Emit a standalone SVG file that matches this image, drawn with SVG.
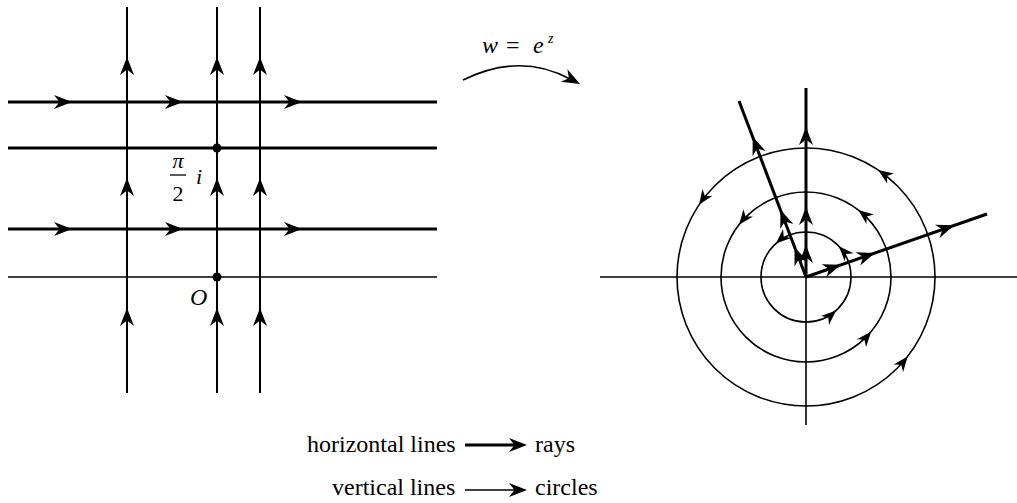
<svg xmlns="http://www.w3.org/2000/svg" xmlns:xlink="http://www.w3.org/1999/xlink" width="1017" height="503" viewBox="0 0 1017 503">
<style>
.t{font-family:"Liberation Serif","Times New Roman",serif;font-size:24px;fill:#000}
.it{font-style:italic}
.f22{font-size:22px}
.f13{font-size:14px}
.thick{stroke:#000;stroke-width:3;fill:none}
.med{stroke:#000;stroke-width:2;fill:none}
.thin{stroke:#000;stroke-width:1.6;fill:none}
</style>
<defs>
<path id="ah" d="M0,0 L-18,-7 L-12.5,0 L-18,7 Z" fill="#000"/>
<path id="as" d="M0,0 L-15,-6 L-10.5,0 L-15,6 Z" fill="#000"/>
</defs>
<rect width="1017" height="503" fill="#fff"/>

<g id="left-plane">
  <line class="thin" x1="8" y1="277" x2="437" y2="277"/>
  <line class="thick" x1="8" y1="102" x2="437" y2="102"/>
  <line class="thick" x1="8" y1="148" x2="437" y2="148"/>
  <line class="thick" x1="8" y1="229" x2="437" y2="229"/>
  <line class="med" x1="127" y1="7" x2="127" y2="393"/>
  <line class="med" x1="217" y1="7" x2="217" y2="393"/>
  <line class="med" x1="260" y1="7" x2="260" y2="393"/>
  <g id="h-arrows">
    <use xlink:href="#ah" transform="translate(72,102)"/>
    <use xlink:href="#ah" transform="translate(183,102)"/>
    <use xlink:href="#ah" transform="translate(302,102)"/>
    <use xlink:href="#ah" transform="translate(72,229)"/>
    <use xlink:href="#ah" transform="translate(183,229)"/>
    <use xlink:href="#ah" transform="translate(302,229)"/>
  </g>
  <g id="v-arrows">
    <use xlink:href="#ah" transform="translate(127,57) rotate(-90)"/>
    <use xlink:href="#ah" transform="translate(217,57) rotate(-90)"/>
    <use xlink:href="#ah" transform="translate(260,57) rotate(-90)"/>
    <use xlink:href="#ah" transform="translate(127,178) rotate(-90)"/>
    <use xlink:href="#ah" transform="translate(217,178) rotate(-90)"/>
    <use xlink:href="#ah" transform="translate(260,178) rotate(-90)"/>
    <use xlink:href="#ah" transform="translate(127,308) rotate(-90)"/>
    <use xlink:href="#ah" transform="translate(217,308) rotate(-90)"/>
    <use xlink:href="#ah" transform="translate(260,308) rotate(-90)"/>
  </g>
  <circle cx="217" cy="148" r="4.5" fill="#000"/>
  <circle cx="217" cy="277" r="4.5" fill="#000"/>
  <text class="t it f22" x="178" y="168" text-anchor="middle">π</text>
  <line x1="170" y1="175" x2="186" y2="175" stroke="#000" stroke-width="1.3"/>
  <text class="t f22" x="178" y="201" text-anchor="middle">2</text>
  <text class="t it f22" x="196" y="184">i</text>
  <text class="t it" x="190" y="305">O</text>
</g>

<g id="map-label">
  <path class="thin" d="M463,80 Q520,52 570,79"/>
  <use xlink:href="#ah" transform="translate(580,84) rotate(28)"/>
  <text class="t it" x="482" y="53">w</text>
  <text class="t" x="506" y="53">=</text>
  <text class="t it" x="533" y="53">e</text>
  <text class="t it f13" x="548" y="43">z</text>
</g>

<g id="right-plane">
  <line class="thin" x1="600" y1="277" x2="1017" y2="277"/>
  <line class="thin" x1="806" y1="277" x2="806" y2="425"/>
  <circle class="thin" cx="806" cy="277" r="45"/>
  <circle class="thin" cx="806" cy="277" r="85"/>
  <circle class="thin" cx="806" cy="277" r="129"/>
  <g id="rays">
    <line class="thick" x1="806" y1="277" x2="806" y2="88"/>
    <line class="thick" x1="806" y1="277" x2="739" y2="101"/>
    <line class="thick" x1="806" y1="277" x2="987" y2="214"/>
  </g>
  <g id="ray-arrows">
    <use xlink:href="#ah" transform="translate(806,277) rotate(-90) translate(32,0)"/>
    <use xlink:href="#ah" transform="translate(806,277) rotate(-90) translate(70,0)"/>
    <use xlink:href="#ah" transform="translate(806,277) rotate(-90) translate(150,0)"/>
    <use xlink:href="#ah" transform="translate(806,277) rotate(-110.8) translate(32,0)"/>
    <use xlink:href="#ah" transform="translate(806,277) rotate(-110.8) translate(72,0)"/>
    <use xlink:href="#ah" transform="translate(806,277) rotate(-110.8) translate(150,0)"/>
    <use xlink:href="#ah" transform="translate(806,277) rotate(-19.2) translate(37,0)"/>
    <use xlink:href="#ah" transform="translate(806,277) rotate(-19.2) translate(73,0)"/>
    <use xlink:href="#ah" transform="translate(806,277) rotate(-19.2) translate(157,0)"/>
  </g>
  <g id="circle-arrows">
    <use xlink:href="#as" transform="translate(806,277) rotate(-56) translate(129,0) rotate(-90)"/>
    <use xlink:href="#as" transform="translate(806,277) rotate(-146) translate(129,0) rotate(-90)"/>
    <use xlink:href="#as" transform="translate(806,277) rotate(38) translate(129,0) rotate(-90)"/>
    <use xlink:href="#as" transform="translate(806,277) rotate(-52) translate(85,0) rotate(-90)"/>
    <use xlink:href="#as" transform="translate(806,277) rotate(-142) translate(85,0) rotate(-90)"/>
    <use xlink:href="#as" transform="translate(806,277) rotate(40) translate(85,0) rotate(-90)"/>
    <use xlink:href="#as" transform="translate(806,277) rotate(-43) translate(45,0) rotate(-90)"/>
    <use xlink:href="#as" transform="translate(806,277) rotate(-132) translate(45,0) rotate(-90)"/>
    <use xlink:href="#as" transform="translate(806,277) rotate(48) translate(45,0) rotate(-90)"/>
  </g>
</g>

<g id="legend">
  <text class="t" x="307" y="452">horizontal lines</text>
  <line class="thick" x1="465" y1="445" x2="518" y2="445"/>
  <use xlink:href="#ah" transform="translate(527,445)"/>
  <text class="t" x="535" y="452">rays</text>
  <text class="t" x="332" y="495">vertical lines</text>
  <line class="thin" x1="465" y1="490" x2="518" y2="490"/>
  <use xlink:href="#ah" transform="translate(527,490)"/>
  <text class="t" x="535" y="495">circles</text>
</g>
</svg>
